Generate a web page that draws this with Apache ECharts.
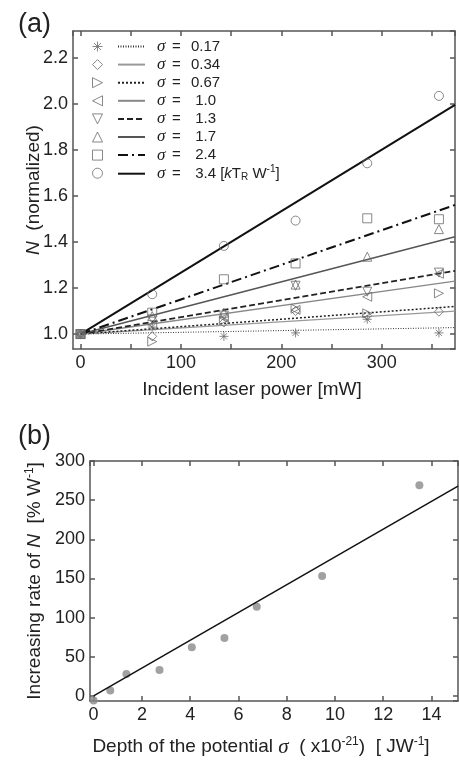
<!DOCTYPE html>
<html>
<head>
<meta charset="utf-8">
<script src="https://cdn.jsdelivr.net/npm/echarts@6/dist/echarts.min.js"></script>
<style>
  html, body { margin: 0; padding: 0; background: #fff; }
  #chart { width: 459px; height: 760px; }
</style>
</head>
<body>
<div id="chart"></div>
<script>
// (a) normalized N vs incident laser power, one list per sigma
const power = [0, 71.4, 142.8, 214.2, 285.6, 357];
const sigmaLabels = ['0.17', '0.34', '0.67', ' 1.0', ' 1.3', ' 1.7', ' 2.4', ' 3.4'];
const nStar    = [1.0, 1.03, 0.99, 1.005, 1.064, 1.005];   // 0.17
const nDiamond = [1.0, 0.99, 1.05, 1.10, 1.08, 1.097];     // 0.34
const nRight   = [1.0, 0.967, 1.06, 1.11, 1.09, 1.177];    // 0.67
const nLeft    = [1.0, 1.04, 1.07, 1.105, 1.162, 1.262];   // 1.0
const nDown    = [1.0, 1.064, 1.08, 1.21, 1.184, 1.267];   // 1.3
const nUp      = [1.0, 1.078, 1.093, 1.215, 1.336, 1.456]; // 1.7
const nSquare  = [1.0, 1.093, 1.238, 1.307, 1.503, 1.499]; // 2.4
const nCircle  = [1.0, 1.173, 1.383, 1.493, 1.742, 2.035]; // 3.4
// fitted lines: N at 0 mW and at the right edge (373 mW)
const fitX = [0, 373];
const fitStart = 1.0;
const fitEnd = [1.028, 1.10, 1.12, 1.23, 1.275, 1.423, 1.561, 1.996];

// (b) increasing rate vs depth of the potential
const depth = [0, 0.69, 1.36, 2.73, 4.07, 5.42, 6.76, 9.47, 13.5];
const rate  = [-6, 7, 28, 33, 62, 74, 114, 153, 269];
const rateFitX = [0, 15.1];
const rateFitY = [0, 268];

const allN = [nStar, nDiamond, nRight, nLeft, nDown, nUp, nSquare, nCircle];
const symbols = [
  'path://M5 0L5 10M0 5L10 5M1.5 1.5L8.5 8.5M8.5 1.5L1.5 8.5',
  'diamond',
  'path://M0 0L10 5L0 10Z',
  'path://M10 0L0 5L10 10Z',
  'path://M0 0L10 0L5 10Z',
  'triangle',
  'rect',
  'circle'
];
const fitStyles = [
  {color: '#333', width: 1, type: [1, 1.5]},
  {color: '#999', width: 1.2, type: 'solid'},
  {color: '#222', width: 1.5, type: [2, 2]},
  {color: '#888', width: 1.5, type: 'solid'},
  {color: '#222', width: 1.8, type: [6, 3]},
  {color: '#555', width: 1.5, type: 'solid'},
  {color: '#111', width: 2, type: [10, 4, 2, 4]},
  {color: '#111', width: 2, type: 'solid'}
];

const TXT = '#222';
const FRAME = '#555';
const FONT = 'Liberation Sans';
const NONE = 'rgba(0,0,0,0)';

const markerNames = sigmaLabels.map(s => 'pts ' + s);
const fitNames = sigmaLabels.map(s => 'fit ' + s);

const series = [];
allN.forEach((vals, i) => {
  series.push({
    name: fitNames[i],
    type: 'line',
    xAxisIndex: 0, yAxisIndex: 0,
    symbol: 'none',
    itemStyle: {color: NONE, borderColor: NONE, borderWidth: 0},
    data: fitX.map((x, k) => [x, k === 0 ? fitStart : fitEnd[i]]),
    lineStyle: fitStyles[i],
    z: 2
  });
});
allN.forEach((vals, i) => {
  series.push({
    name: markerNames[i],
    type: 'scatter',
    xAxisIndex: 0, yAxisIndex: 0,
    symbol: symbols[i],
    symbolSize: 9,
    itemStyle: {color: NONE, borderColor: '#6a6a6a', borderWidth: 1},
    data: power.map((p, k) => [p, vals[k]]),
    z: 3
  });
});
series.push({
  type: 'line',
  xAxisIndex: 2, yAxisIndex: 2,
  symbol: 'none',
  data: rateFitX.map((x, k) => [x, rateFitY[k]]),
  lineStyle: {color: '#111', width: 1.5}
});
series.push({
  type: 'scatter',
  xAxisIndex: 2, yAxisIndex: 2,
  symbolSize: 8,
  itemStyle: {color: '#8a8a8a'},
  data: depth.map((d, k) => [d, rate[k]])
});

const richText = {
  n: {fontSize: 19, color: TXT, fontFamily: FONT},
  i: {fontSize: 19, color: TXT, fontFamily: FONT, fontStyle: 'italic'},
  s: {fontSize: 21, color: TXT, fontFamily: 'Liberation Serif', fontStyle: 'italic'},
  sup: {fontSize: 12, color: TXT, fontFamily: FONT, padding: [0, 0, 10, 0]}
};

function frameAxis(extra, labels) {
  return Object.assign({
    type: 'value',
    nameMoveOverlap: false,
    axisLine: {show: true, onZero: false, lineStyle: {color: FRAME, width: 1.5}},
    axisTick: {show: true, inside: true, length: 5, lineStyle: {color: FRAME, width: 1.5}},
    splitLine: {show: false},
    axisLabel: labels ? Object.assign({
      show: true, fontSize: 18, color: TXT, fontFamily: FONT, margin: 5,
      showMinLabel: false, showMaxLabel: false
    }, labels) : {show: false}
  }, extra);
}

const chart = echarts.init(document.getElementById('chart'));
chart.setOption({
  animation: false,
  backgroundColor: '#fff',
  textStyle: {fontFamily: FONT},
  title: [
    {text: '(a)', left: 13, top: 6, textStyle: {fontSize: 27, fontWeight: 'normal', color: TXT}},
    {text: '(b)', left: 13, top: 418, textStyle: {fontSize: 27, fontWeight: 'normal', color: TXT}}
  ],
  grid: [
    {left: 73, top: 31, width: 382, height: 318},
    {left: 90, top: 461, width: 368, height: 240}
  ],
  legend: [
    {
      data: markerNames, orient: 'vertical', left: 92, top: 41, padding: 0,
      itemWidth: 10, itemHeight: 10, itemGap: 7.1, selectedMode: false,
      formatter: () => '', textStyle: {fontSize: 8, lineHeight: 8},
      itemStyle: {borderWidth: 1}
    },
    {
      data: fitNames, orient: 'vertical', left: 117, top: 38, padding: 0,
      itemWidth: 27, itemHeight: 10, itemGap: 1.1, selectedMode: false,
      formatter: name => {
        const i = fitNames.indexOf(name);
        let t = '{g|}{s|σ}{e|=}{n|' + sigmaLabels[i] + '}';
        if (i === sigmaLabels.length - 1) t += '{n| [}{k|k}{n|T}{sub|R}{n| W}{sup|-1}{n|]}';
        return t;
      },
      textStyle: {
        rich: {
          g: {width: 7, lineHeight: 18},
          s: {fontSize: 17, lineHeight: 18, color: TXT, fontFamily: 'Liberation Serif', fontStyle: 'italic', width: 15},
          e: {fontSize: 15, lineHeight: 18, color: TXT, fontFamily: FONT, width: 19},
          n: {fontSize: 15, lineHeight: 18, color: TXT, fontFamily: FONT},
          k: {fontSize: 15, lineHeight: 18, color: TXT, fontFamily: FONT, fontStyle: 'italic'},
          sub: {fontSize: 10, color: TXT, fontFamily: FONT, padding: [8, 0, 0, 0]},
          sup: {fontSize: 10, color: TXT, fontFamily: FONT, padding: [0, 0, 8, 0]}
        }
      }
    }
  ],
  xAxis: [
    frameAxis({gridIndex: 0, position: 'bottom', min: -7.5, max: 373, splitNumber: 8,
      name: 'Incident laser power [mW]', nameLocation: 'middle', nameGap: 31,
      nameTextStyle: {fontSize: 19, color: TXT, fontFamily: FONT, padding: [0, 24, 0, 0]}},
      {formatter: v => (v % 100 === 0 ? String(v) : '')}),
    frameAxis({gridIndex: 0, position: 'top', min: -7.5, max: 373, splitNumber: 8}),
    frameAxis({gridIndex: 1, position: 'bottom', min: -0.15, max: 15.1, splitNumber: 8,
      name: '{n|Depth of the potential }{s|σ}{n|  ( x10}{sup|-21}{n|)  [ JW}{sup|-1}{n|]}',
      nameLocation: 'middle', nameGap: 35,
      nameTextStyle: {fontSize: 19, color: TXT, rich: richText, padding: [0, 26, 0, 0]}},
      {}),
    frameAxis({gridIndex: 1, position: 'top', min: -0.15, max: 15.1, splitNumber: 8})
  ],
  yAxis: [
    frameAxis({gridIndex: 0, position: 'left', min: 0.935, max: 2.317, splitNumber: 7,
      name: '{i|N}  {n|(normalized)}', nameLocation: 'middle', nameGap: 30, nameRotate: 90,
      nameTextStyle: {fontSize: 19, color: TXT, rich: richText}},
      {formatter: v => v.toFixed(1)}),
    frameAxis({gridIndex: 0, position: 'right', min: 0.935, max: 2.317, splitNumber: 7}),
    frameAxis({gridIndex: 1, position: 'left', min: -6.5, max: 300, splitNumber: 6,
      name: '{n|Increasing rate of }{i|N}{n|  [% W}{sup|-1}{n|]}', nameLocation: 'middle',
      nameGap: 44, nameRotate: 90,
      nameTextStyle: {fontSize: 19, color: TXT, rich: richText}},
      {showMaxLabel: true}),
    frameAxis({gridIndex: 1, position: 'right', min: -6.5, max: 300, splitNumber: 6})
  ],
  series: series
});
</script>
</body>
</html>
